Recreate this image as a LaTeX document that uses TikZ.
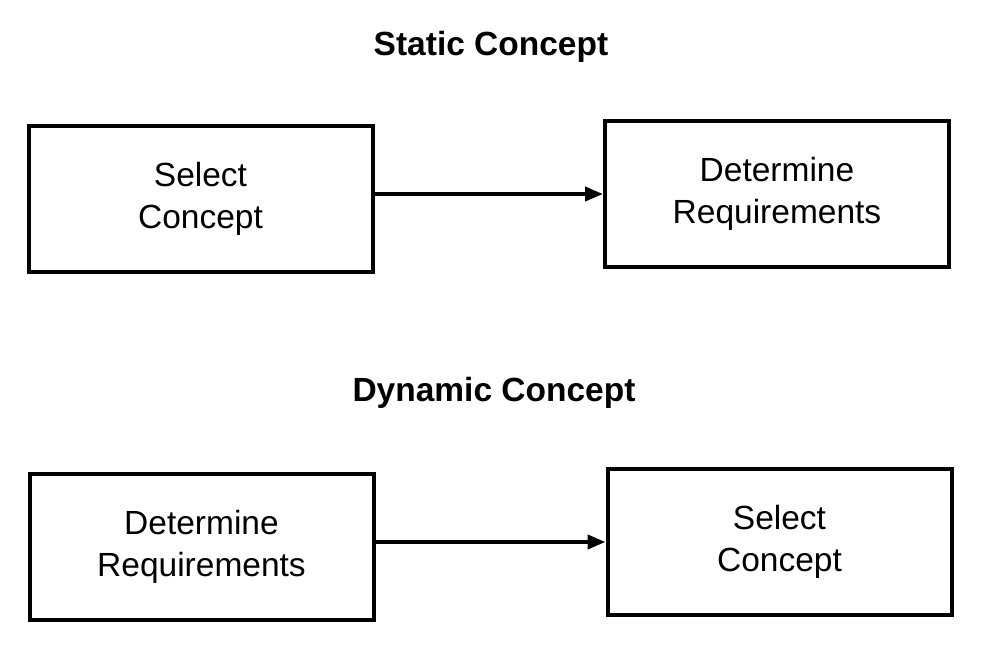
\documentclass[tikz,border=0pt]{standalone}
\usepackage{fontspec}
\setmainfont{Liberation Sans}
\usetikzlibrary{arrows.meta}
\begin{document}
\begin{tikzpicture}[x=1pt,y=-1pt,
  box/.style={draw,line width=4pt,minimum width=344pt,minimum height=146pt,inner sep=0pt,align=center,font=\fontsize{33.5}{42}\selectfont},
  ttl/.style={font=\fontsize{33.5}{38}\selectfont\bfseries},
  arr/.style={line width=4pt,-{Triangle[length=18pt,width=14pt]}}]
\useasboundingbox (0,0) rectangle (985,653);
\node[ttl] (t1) at (491,47) {Static Concept};
\node[ttl] (t2) at (494,393) {Dynamic Concept};
\node[box] (b1) at (200.5,198.5) {Select\\Concept};
\node[box] (b2) at (777,194) {Determine\\Requirements};
\node[box] (b3) at (201.5,547) {Determine\\Requirements};
\node[box] (b4) at (779.5,542) {Select\\Concept};
\draw[arr] (b1.east |- b2.west) -- (b2.west);
\draw[arr] (b3.east |- b4.west) -- (b4.west);
\end{tikzpicture}
\end{document}
